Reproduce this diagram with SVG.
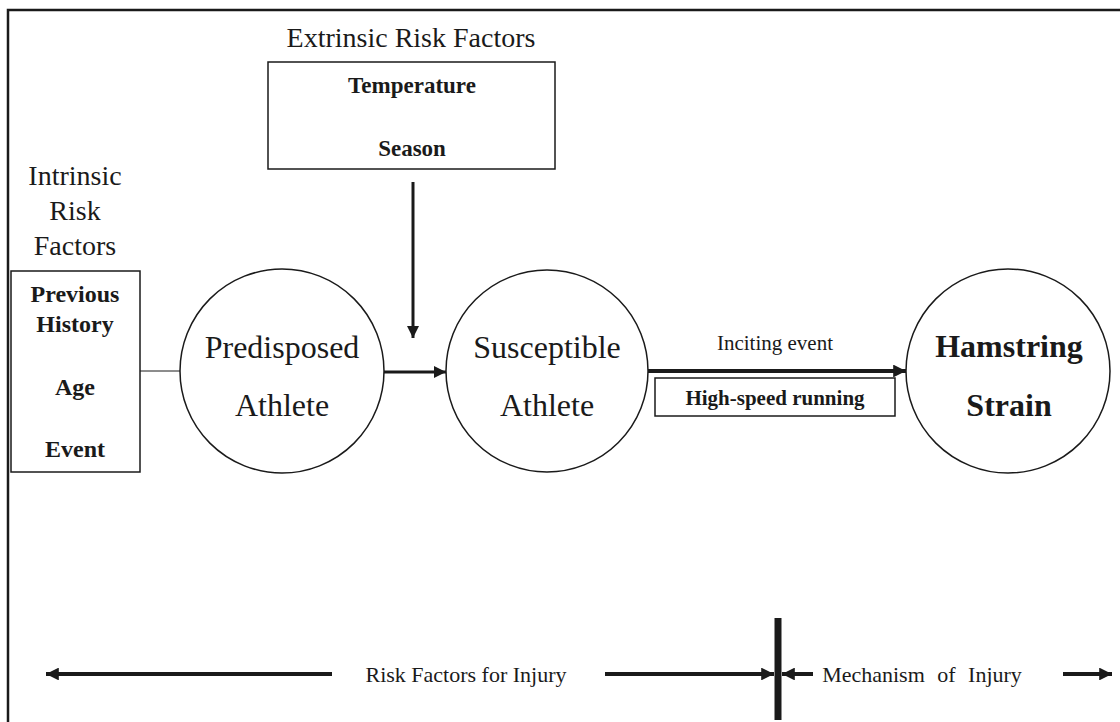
<svg xmlns="http://www.w3.org/2000/svg" width="1120" height="722" viewBox="0 0 1120 722">
<defs>
<style>
text{font-family:"Liberation Serif","Times New Roman",serif;fill:#1a1a1a;text-anchor:middle}
.b{font-weight:bold}
.node{fill:#fff;stroke:#1a1a1a;stroke-width:1.5}
.ln{stroke:#1a1a1a;fill:none}
</style>
<marker id="ah" viewBox="0 0 10 10" refX="10" refY="5" markerWidth="4" markerHeight="4" markerUnits="strokeWidth" orient="auto-start-reverse">
<path d="M0,0 L10,5 L0,10 z" fill="#1a1a1a"/>
</marker>
<marker id="ah2" viewBox="0 0 10 10" refX="10" refY="5" markerWidth="3.2" markerHeight="3.2" markerUnits="strokeWidth" orient="auto-start-reverse">
<path d="M0,0 L10,5 L0,10 z" fill="#1a1a1a"/>
</marker>
</defs>
<rect width="1120" height="722" fill="#fff"/>
<path d="M8,722 V10 H1120" class="ln" stroke-width="2.5"/>

<g id="extrinsic">
<text x="411" y="47" font-size="28">Extrinsic Risk Factors</text>
<rect class="node" x="268" y="62" width="287" height="107"/>
<text class="b" x="412" y="93" font-size="23">Temperature</text>
<text class="b" x="412" y="156" font-size="23">Season</text>
</g>

<g id="intrinsic">
<text x="75" y="185" font-size="28">Intrinsic</text>
<text x="75" y="220" font-size="28">Risk</text>
<text x="75" y="255" font-size="28">Factors</text>
<rect class="node" x="11" y="271" width="129" height="201"/>
<text class="b" x="75" y="302" font-size="24">Previous</text>
<text class="b" x="75" y="332" font-size="24">History</text>
<text class="b" x="75" y="395" font-size="24">Age</text>
<text class="b" x="75" y="457" font-size="24">Event</text>
</g>

<g id="predisposed">
<circle class="node" cx="282" cy="371" r="102"/>
<text x="282" y="358" font-size="32">Predisposed</text>
<text x="282" y="416" font-size="32">Athlete</text>
</g>

<g id="susceptible">
<circle class="node" cx="547" cy="371" r="101"/>
<text x="547" y="358" font-size="32">Susceptible</text>
<text x="547" y="416" font-size="32">Athlete</text>
</g>

<g id="hamstring">
<circle class="node" cx="1008" cy="371" r="102"/>
<text class="b" x="1009" y="357" font-size="32">Hamstring</text>
<text class="b" x="1009" y="416" font-size="32">Strain</text>
</g>

<g id="inciting">
<text x="775" y="350" font-size="21">Inciting event</text>
<rect class="node" x="655" y="378" width="240" height="38"/>
<text class="b" x="775" y="405" font-size="21">High-speed running</text>
</g>

<g id="legend">
<text x="466" y="682" font-size="22">Risk Factors for Injury</text>
<text x="922" y="682" font-size="22" word-spacing="7">Mechanism of Injury</text>
</g>

<g id="connectors">
<line class="ln" x1="140" y1="371" x2="180" y2="371" stroke-width="1" stroke="#777"/>
<line class="ln" x1="413" y1="182" x2="413" y2="338" stroke-width="3" marker-end="url(#ah)"/>
<line class="ln" x1="384" y1="372" x2="446" y2="372" stroke-width="3" marker-end="url(#ah)"/>
<line class="ln" x1="648" y1="371" x2="906" y2="371" stroke-width="4" marker-end="url(#ah2)"/>
<line class="ln" x1="778" y1="618" x2="778" y2="720" stroke-width="7"/>
<line class="ln" x1="46" y1="674" x2="332" y2="674" stroke-width="4" marker-start="url(#ah2)"/>
<line class="ln" x1="605" y1="674" x2="774" y2="674" stroke-width="4" marker-end="url(#ah2)"/>
<line class="ln" x1="813" y1="674" x2="782" y2="674" stroke-width="4" marker-end="url(#ah2)"/>
<line class="ln" x1="1063" y1="674" x2="1112" y2="674" stroke-width="4" marker-end="url(#ah2)"/>
</g>
</svg>
